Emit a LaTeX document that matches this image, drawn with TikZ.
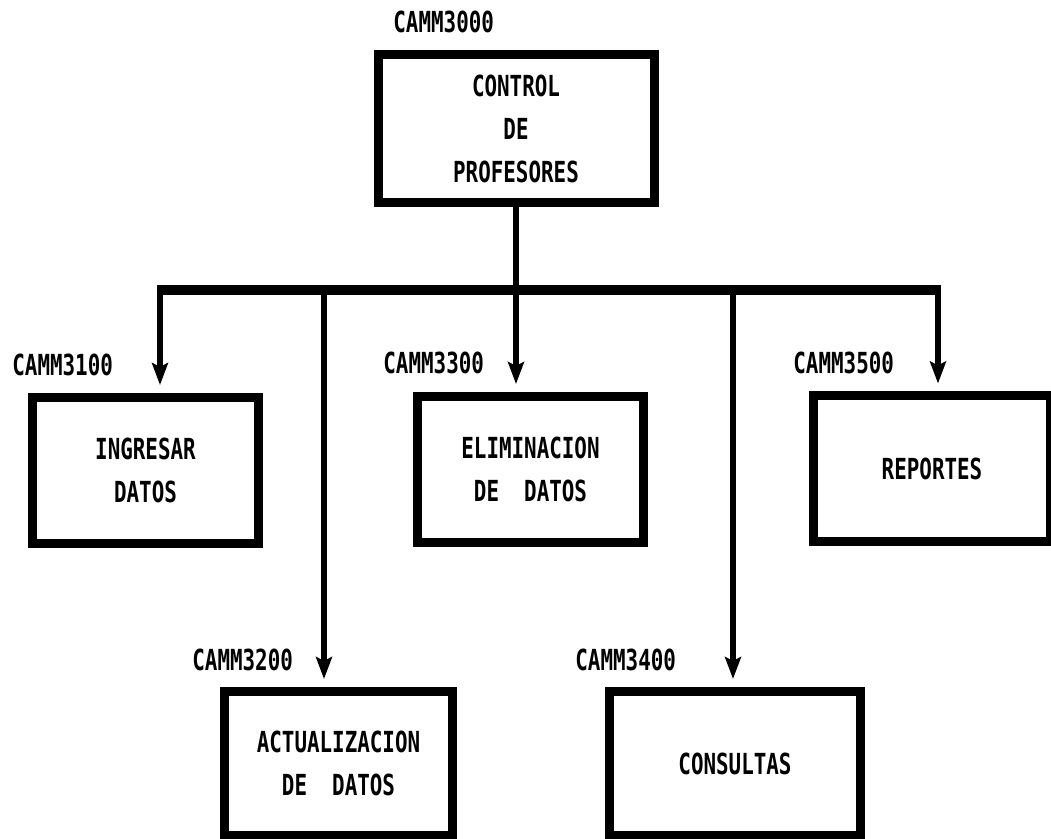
\documentclass[tikz,border=0pt]{standalone}
\usepackage{fontspec}
\newfontfamily\pixfont[FakeStretch=0.72]{DejaVu Sans Mono}
\usetikzlibrary{positioning,arrows.meta}

\begin{document}
\begin{tikzpicture}[x=0.5pt, y=-0.5pt,
  modulo/.style={draw, line width=4.5pt, align=center, inner sep=0pt,
                 minimum height=73pt, minimum width=113pt,
                 font={\pixfont\bfseries\fontsize{14.5pt}{21.5pt}\selectfont}},
  cod/.style={anchor=west, inner sep=0pt,
              font={\pixfont\bfseries\fontsize{14.5pt}{16pt}\selectfont}},
  bus/.style={line width=5pt},
  arr/.style={line width=3pt, -{Stealth[length=11pt, width=8pt, inset=2pt]},
              shorten >=4pt}]
\useasboundingbox (0,0) rectangle (1051,839);
% modulo principal
\node[modulo, minimum width=138pt, minimum height=74pt] (top) at (516,128.5)
  {CONTROL\\DE\\PROFESORES};
\node[cod] (c3000) at (393,22) {CAMM3000};
% submodulos
\node[modulo] (b1) at (145.5,470.5) {INGRESAR\\DATOS};
\node[modulo] (b3) at (530.5,469.5) {ELIMINACION\\DE\ \ DATOS};
\node[modulo, minimum width=118.5pt] (b5) at (932,469) {REPORTES};
\node[modulo, minimum width=114pt, minimum height=72pt] (b2) at (338.5,763.5)
  {ACTUALIZACION\\DE\ \ DATOS};
\node[modulo, minimum width=125.5pt, minimum height=72pt] (b4) at (735,763.5)
  {CONSULTAS};
\node[cod] (c3100) at (12,365) {CAMM3100};
\node[cod] (c3300) at (383,363) {CAMM3300};
\node[cod] (c3500) at (793,363) {CAMM3500};
\node[cod] (c3200) at (192,660) {CAMM3200};
\node[cod] (c3400) at (575,660) {CAMM3400};
% barra de distribucion
\coordinate (j1) at (160,290);
\coordinate (j2) at (324,290);
\coordinate (j3) at (516,290);
\coordinate (j4) at (733,290);
\coordinate (j5) at (938,290);
\draw[line width=3pt] (top.south) -- (j3);
\draw[bus] ([xshift=-1.5pt]j1) -- ([xshift=1.5pt]j5);
\draw[arr] (j1) -- (j1 |- b1.north);
\draw[arr] (j2) -- (j2 |- b2.north);
\draw[arr] (j3) -- (j3 |- b3.north);
\draw[arr] (j4) -- (j4 |- b4.north);
\draw[arr] (j5) -- (j5 |- b5.north);
\end{tikzpicture}
\end{document}
